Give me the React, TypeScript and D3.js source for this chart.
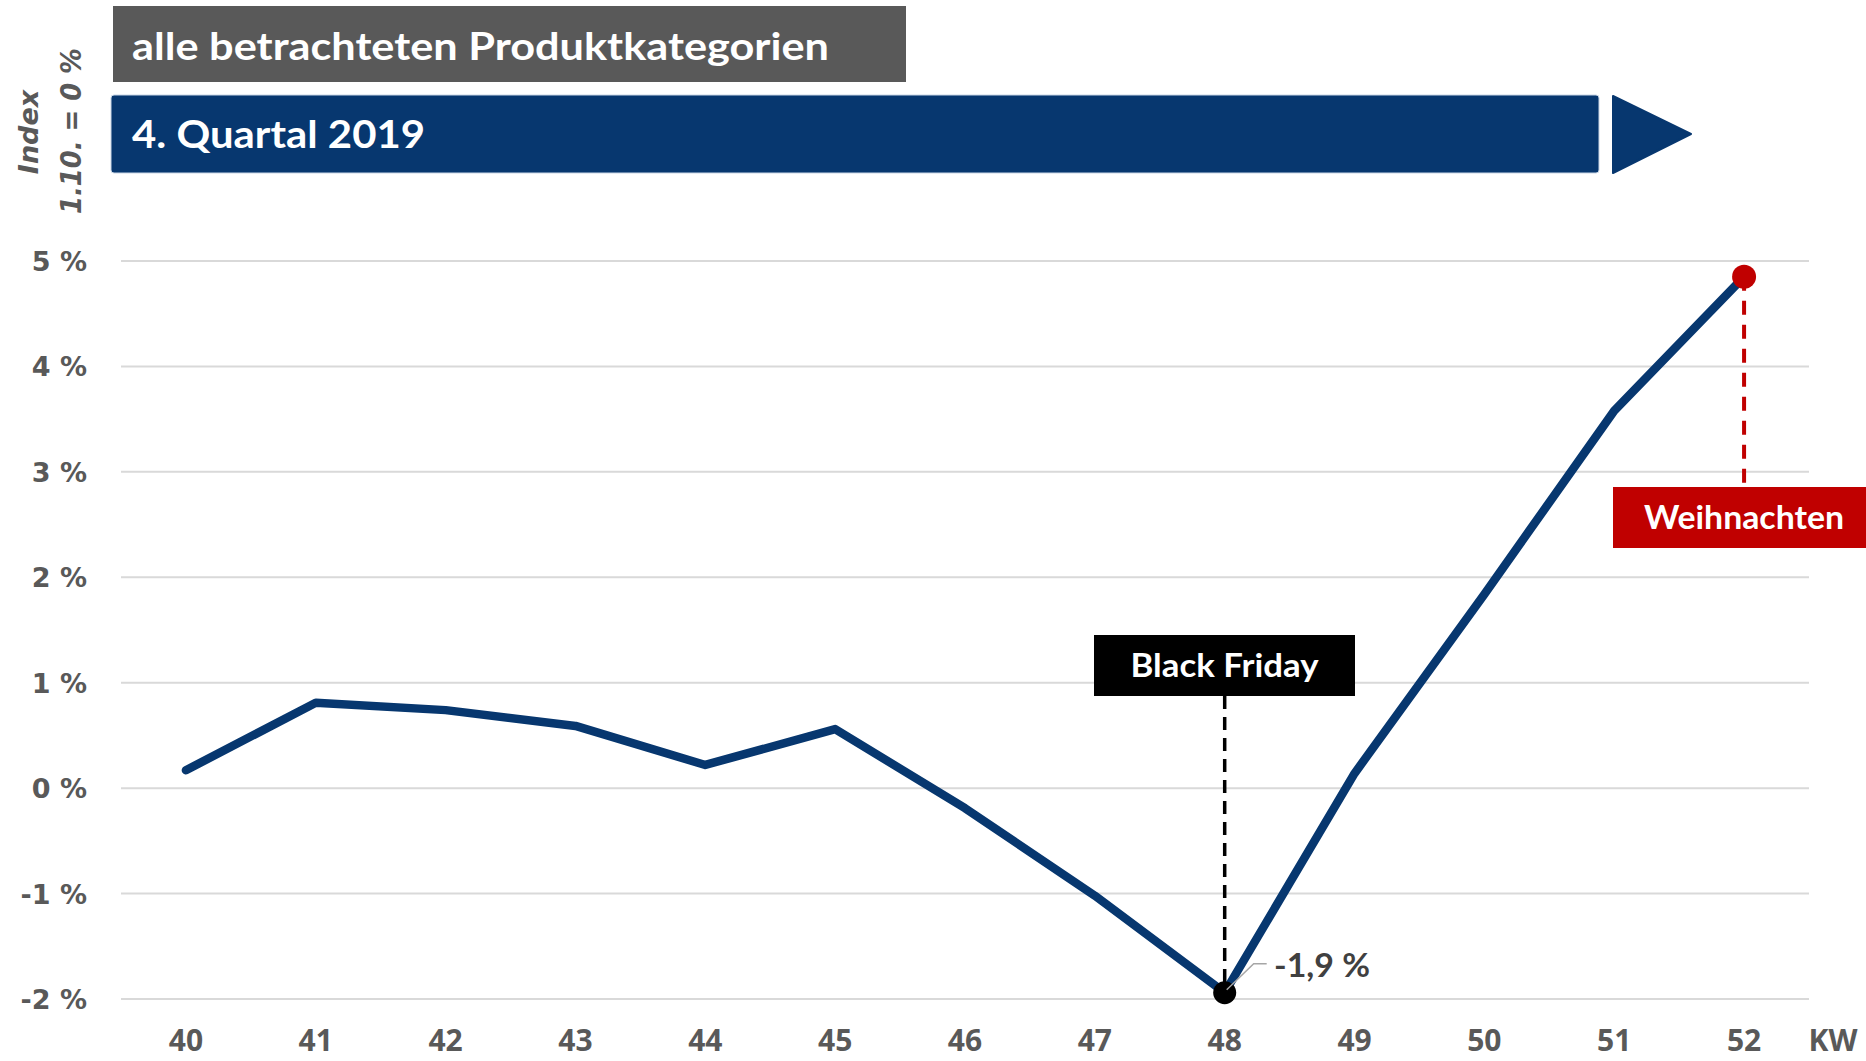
import React, { useEffect } from "react";
import * as d3 from "d3";

const weeks = ["40", "41", "42", "43", "44", "45", "46", "47", "48", "49", "50", "51", "52"];
const values = [0.17, 0.81, 0.74, 0.59, 0.22, 0.56, -0.19, -1.02, -1.94, 0.14, 1.84, 3.58, 4.85];
const yTicks = [5, 4, 3, 2, 1, 0, -1, -2];
const headerText = "alle betrachteten Produktkategorien";
const periodText = "4. Quartal 2019";
const blackFridayWeek = "48";
const blackFridayLabel = "Black Friday";
const blackFridayValueLabel = "-1,9 %";
const christmasWeek = "52";
const christmasLabel = "Weihnachten";
const xAxisUnit = "KW";
const yTitle1 = "Index";
const yTitle2 = "1.10. = 0 %";

const W = 1866;
const H = 1061;
const BLUE = "#07376f";
const GRAY = "#595959";
const RED = "#c00000";
const TITLE_FONT = "Lato, 'Open Sans', sans-serif";

export default function App() {
  useEffect(() => {
    document.body.style.margin = "0";
  }, []);

  const x = d3.scaleBand<string>().domain(weeks).range([121, 1809]);
  const xc = (w: string) => (x(w) as number) + x.bandwidth() / 2;
  const y = d3.scaleLinear().domain([-2, 5]).range([999, 261]);

  const line = d3
    .line<number>()
    .x((_, i) => xc(weeks[i]))
    .y((d) => y(d));

  const bfX = xc(blackFridayWeek);
  const bfY = y(values[weeks.indexOf(blackFridayWeek)]);
  const xmX = xc(christmasWeek);
  const xmY = y(values[weeks.indexOf(christmasWeek)]);

  return (
    <svg width={W} height={H} style={{ position: "absolute", left: 0, top: 0, background: "#fff" }}>
      {/* gridlines */}
      {yTicks.map((t) => (
        <line key={"g" + t} x1={121} x2={1809} y1={y(t)} y2={y(t)} stroke="#d9d9d9" strokeWidth={2} />
      ))}
      {/* y tick labels */}
      {yTicks.map((t) => (
        <text
          key={"t" + t}
          x={87}
          y={y(t) + 10}
          textAnchor="end"
          fontFamily="'DejaVu Sans', Verdana, sans-serif"
          fontWeight="bold"
          fontSize={27}
          fill={GRAY}
        >
          {t} %
        </text>
      ))}
      {/* x tick labels */}
      {weeks.map((w) => (
        <text
          key={"x" + w}
          x={xc(w)}
          y={1051}
          textAnchor="middle"
          fontFamily="'Open Sans', sans-serif"
          fontWeight="bold"
          fontSize={30}
          fill={GRAY}
        >
          {w}
        </text>
      ))}
      <text x={1833} y={1051} textAnchor="middle" fontFamily="'Open Sans', sans-serif" fontWeight="bold" fontSize={30} fill={GRAY}>
        {xAxisUnit}
      </text>
      {/* y title */}
      <text
        transform="translate(38,132) rotate(-90)"
        textAnchor="middle"
        fontFamily="'DejaVu Sans', Verdana, sans-serif"
        fontWeight="bold"
        fontStyle="italic"
        fontSize={27}
        fill={GRAY}
      >
        {yTitle1}
      </text>
      <text
        transform="translate(81,131) rotate(-90)"
        textAnchor="middle"
        fontFamily="'DejaVu Sans', Verdana, sans-serif"
        fontWeight="bold"
        fontStyle="italic"
        fontSize={28}
        fill={GRAY}
        textLength={166}
        lengthAdjust="spacingAndGlyphs"
      >
        {yTitle2}
      </text>

      {/* header boxes */}
      <rect x={113} y={6} width={793} height={76} fill={GRAY} />
      <text x={132} y={60} fontFamily={TITLE_FONT} fontWeight="bold" fontSize={38} fill="#fff" textLength={697} lengthAdjust="spacingAndGlyphs">
        {headerText}
      </text>
      <rect x={111} y={95} width={1488} height={78} rx={3} fill={BLUE} stroke="#c9d6e6" strokeWidth={1} />
      <text x={132} y={148} fontFamily={TITLE_FONT} fontWeight="bold" fontSize={38} fill="#fff" textLength={293} lengthAdjust="spacingAndGlyphs">
        {periodText}
      </text>
      <path d="M1613,96 L1691,134 L1613,173 Z" fill={BLUE} stroke={BLUE} strokeWidth={2} strokeLinejoin="round" />

      {/* Black Friday annotation */}
      <line x1={bfX} x2={bfX} y1={696} y2={bfY} stroke="#000" strokeWidth={3.5} strokeDasharray="13 8" />
      <rect x={1094} y={635} width={261} height={61} fill="#000" />
      <text x={(1094 + 1355) / 2} y={677} textAnchor="middle" fontFamily={TITLE_FONT} fontWeight="bold" fontSize={33} fill="#fff" textLength={188} lengthAdjust="spacingAndGlyphs">
        {blackFridayLabel}
      </text>

      {/* Christmas annotation */}
      <line x1={xmX} x2={xmX} y1={xmY} y2={487} stroke={RED} strokeWidth={4} strokeDasharray="14 10" />
      <rect x={1613} y={487} width={260} height={61} fill={RED} />
      <text x={1644} y={529} fontFamily={TITLE_FONT} fontWeight="bold" fontSize={33} fill="#fff" textLength={200} lengthAdjust="spacingAndGlyphs">
        {christmasLabel}
      </text>

      {/* series line */}
      <path d={line(values) as string} fill="none" stroke={BLUE} strokeWidth={8.5} strokeLinejoin="round" strokeLinecap="round" />

      {/* markers */}
      <circle cx={bfX} cy={bfY} r={11.5} fill="#000" />
      <circle cx={xmX} cy={xmY} r={12} fill={RED} />

      {/* value label with leader */}
      <polyline
        points={`${bfX + 2},${bfY - 3} ${bfX + 29},${bfY - 29} ${bfX + 42},${bfY - 29}`}
        fill="none"
        stroke="#a6a6a6"
        strokeWidth={1.5}
      />
      <text x={1274} y={977} fontFamily={TITLE_FONT} fontWeight="bold" fontSize={32} fill="#404040" textLength={96} lengthAdjust="spacingAndGlyphs">
        {blackFridayValueLabel}
      </text>
    </svg>
  );
}
